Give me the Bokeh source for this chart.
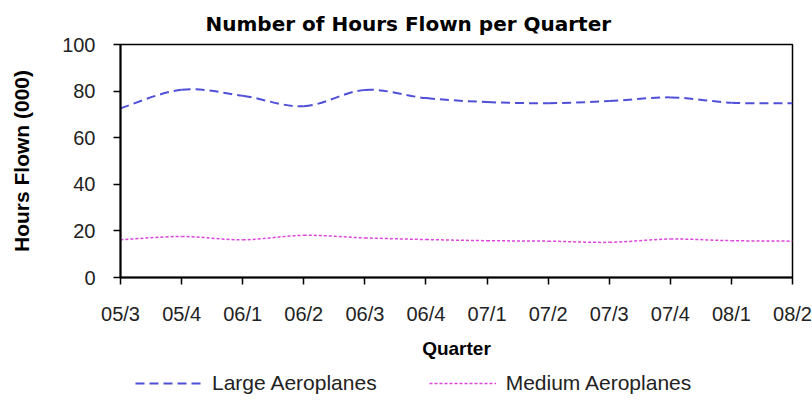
from bokeh.plotting import figure
from bokeh.layouts import column
from bokeh.models import (Range1d, FixedTicker, Legend, LegendItem, Title)
from bokeh.embed import file_html
from bokeh.resources import INLINE

quarters = ["05/3", "05/4", "06/1", "06/2", "06/3", "06/4",
            "07/1", "07/2", "07/3", "07/4", "08/1", "08/2"]
large = [72.6, 80.6, 78.0, 73.5, 80.5, 77.0, 75.3, 74.8, 75.7, 77.3, 75.0, 74.8]
medium = [16.2, 17.6, 16.2, 18.1, 17.0, 16.3, 15.8, 15.6, 15.1, 16.5, 15.8, 15.6]
y_ticks = [0, 20, 40, 60, 80, 100]
series_names = ["Large Aeroplanes", "Medium Aeroplanes"]

xs = list(range(len(quarters)))

LARGE_STYLE = dict(line_color="#4f4fd8", line_width=2, line_dash="9 5")
MED_STYLE = dict(line_color="#dd44dd", line_width=1.5, line_dash="3 2")


def smooth_segments(x, y):
    n = len(x)
    out = dict(x0=[], y0=[], x1=[], y1=[], cx0=[], cy0=[], cx1=[], cy1=[])
    for i in range(n - 1):
        p0 = max(i - 1, 0)
        p3 = min(i + 2, n - 1)
        out["x0"].append(x[i]); out["y0"].append(y[i])
        out["x1"].append(x[i + 1]); out["y1"].append(y[i + 1])
        out["cx0"].append(x[i] + (x[i + 1] - x[p0]) / 6.0)
        out["cy0"].append(y[i] + (y[i + 1] - y[p0]) / 6.0)
        out["cx1"].append(x[i + 1] - (x[p3] - x[i]) / 6.0)
        out["cy1"].append(y[i + 1] - (y[p3] - y[i]) / 6.0)
    return out


s1 = smooth_segments(xs, large)
s2 = smooth_segments(xs, medium)

p = figure(width=812, height=366, output_backend="svg", toolbar_location=None,
           x_range=Range1d(0, len(quarters) - 1), y_range=Range1d(0, 100),
           min_border_left=120, min_border_right=20, min_border_top=43,
           min_border_bottom=89)

p.title = Title(text="Number of Hours Flown per Quarter", align="left", offset=85,
                text_font="DejaVu Sans", text_font_size="20px",
                text_font_style="bold", text_color="black", standoff=18)

p.bezier(**s1, **LARGE_STYLE)
p.bezier(**s2, **MED_STYLE)

p.xgrid.visible = False
p.ygrid.visible = False
p.outline_line_color = "black"
p.outline_line_width = 1.5
p.background_fill_color = "white"
p.border_fill_color = "white"

xa = p.xaxis[0]
xa.ticker = FixedTicker(ticks=xs)
xa.major_label_overrides = {i: q for i, q in enumerate(quarters)}
ya = p.yaxis[0]
ya.ticker = FixedTicker(ticks=y_ticks)

for ax in (xa, ya):
    ax.axis_line_color = "black"
    ax.axis_line_width = 2
    ax.major_tick_line_color = "black"
    ax.major_tick_line_width = 1.5
    ax.major_tick_in = 0
    ax.major_tick_out = 7
    ax.minor_tick_line_color = None
    ax.major_label_text_font = "Liberation Sans"
    ax.major_label_text_font_size = "20px"
    ax.major_label_text_color = "#222222"
    ax.axis_label_text_font = "Liberation Sans"
    ax.axis_label_text_font_style = "bold"
    ax.axis_label_text_color = "black"

xa.axis_label = "Quarter"
xa.axis_label_text_font_size = "19px"
xa.major_label_standoff = 18
xa.axis_label_standoff = 10
ya.axis_label = "Hours Flown (000)"
ya.axis_label_text_font_size = "21px"
ya.major_label_standoff = 18
ya.axis_label_standoff = 26

# legend strip below the chart (its own small figure, data kept out of view)
lg = figure(width=812, height=37, output_backend="svg", toolbar_location=None,
            x_range=Range1d(0, len(quarters) - 1), y_range=Range1d(1000, 1001),
            x_axis_location=None, y_axis_location=None,
            min_border_left=0, min_border_right=0, min_border_top=0,
            min_border_bottom=0)
lg.xgrid.visible = False
lg.ygrid.visible = False
lg.outline_line_color = None
lg.border_fill_color = "white"
lr1 = lg.bezier(**s1, **LARGE_STYLE)
lr2 = lg.bezier(**s2, **MED_STYLE)

legend = Legend(items=[LegendItem(label=series_names[0], renderers=[lr1]),
                       LegendItem(label=series_names[1], renderers=[lr2])],
                orientation="horizontal", location=(15, 8),
                glyph_width=67, glyph_height=20, label_height=20,
                label_standoff=10, spacing=52, padding=0, margin=0,
                border_line_color=None, background_fill_alpha=0,
                label_text_font="Liberation Sans", label_text_font_size="21px",
                label_text_color="#222222")
lg.add_layout(legend, "center")

layout = column(p, lg, spacing=0)
open("out.html", "w").write(file_html(layout, INLINE))
